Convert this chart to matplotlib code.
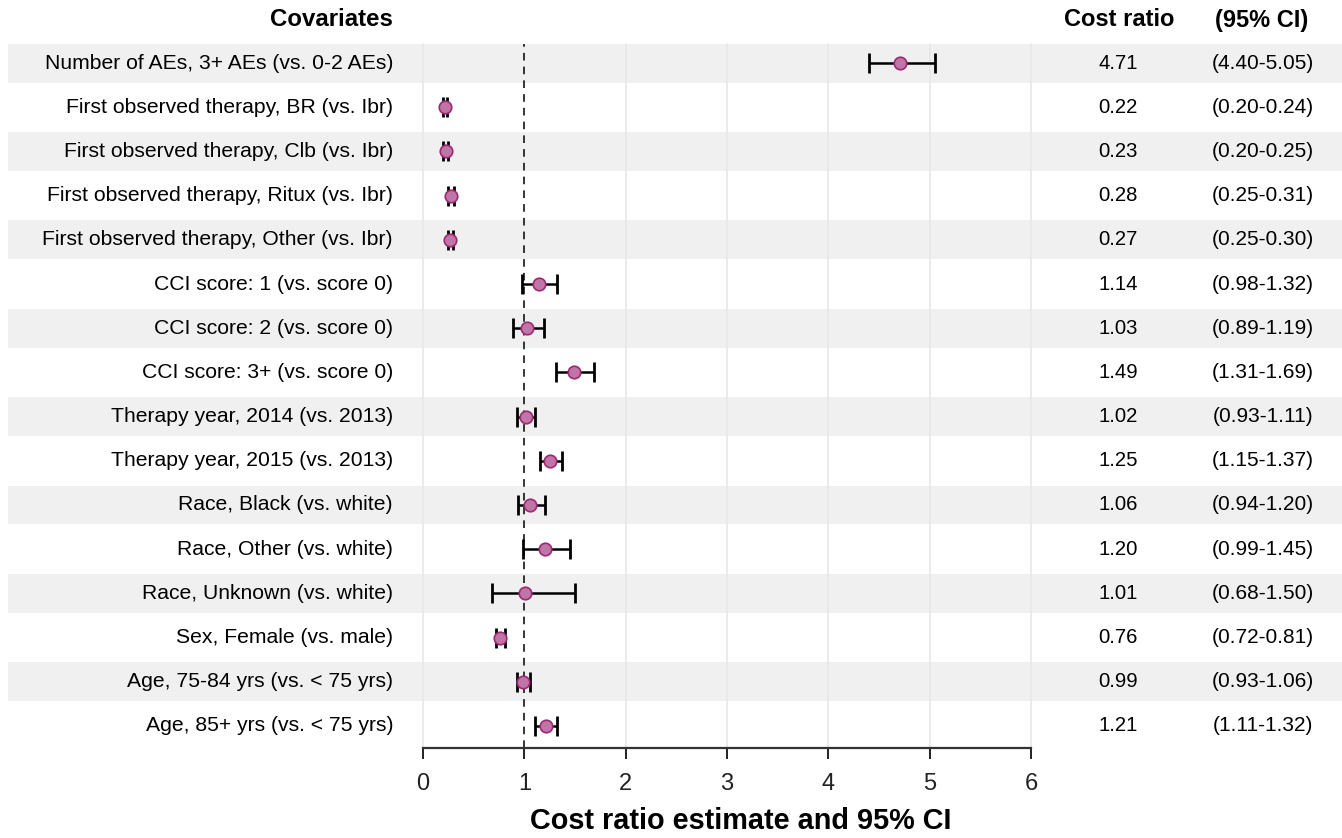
import matplotlib
matplotlib.use("Agg")
import matplotlib.pyplot as plt
import matplotlib.transforms as mtransforms

plt.rcParams['font.family'] = ['Liberation Sans', 'DejaVu Sans']

# --- data ---
labels = [
    "Number of AEs, 3+ AEs (vs. 0-2 AEs)",
    "First observed therapy, BR (vs. Ibr)",
    "First observed therapy, Clb (vs. Ibr)",
    "First observed therapy, Ritux (vs. Ibr)",
    "First observed therapy, Other (vs. Ibr)",
    "CCI score: 1 (vs. score 0)",
    "CCI score: 2 (vs. score 0)",
    "CCI score: 3+ (vs. score 0)",
    "Therapy year, 2014 (vs. 2013)",
    "Therapy year, 2015 (vs. 2013)",
    "Race, Black (vs. white)",
    "Race, Other (vs. white)",
    "Race, Unknown (vs. white)",
    "Sex, Female (vs. male)",
    "Age, 75-84 yrs (vs. < 75 yrs)",
    "Age, 85+ yrs (vs. < 75 yrs)",
]
est = [4.71, 0.22, 0.23, 0.28, 0.27, 1.14, 1.03, 1.49, 1.02, 1.25, 1.06, 1.20, 1.01, 0.76, 0.99, 1.21]
lo = [4.40, 0.20, 0.20, 0.25, 0.25, 0.98, 0.89, 1.31, 0.93, 1.15, 0.94, 0.99, 0.68, 0.72, 0.93, 1.11]
hi = [5.05, 0.24, 0.25, 0.31, 0.30, 1.32, 1.19, 1.69, 1.11, 1.37, 1.20, 1.45, 1.50, 0.81, 1.06, 1.32]
xticks = [0, 1, 2, 3, 4, 5, 6]

W, H = 1342, 838
fig = plt.figure(figsize=(W / 100, H / 100), dpi=100)

# plot area: x=0 at 423px, x=6 at 1031px; rows between 41px and 748px
left, right, top, bottom = 423, 1031, 41, 748
ax = fig.add_axes([left / W, 1 - bottom / H, (right - left) / W, (bottom - top) / H])
n = len(labels)
ys = [n - 1 - i for i in range(n)]
ax.set_xlim(0, 6)
ax.set_ylim(-0.5, n - 0.5)

# row shading across whole figure
bt = mtransforms.blended_transform_factory(fig.transFigure, ax.transData)
band = 0.88
for i, y in enumerate(ys):
    if i % 2 == 0:
        r = plt.Rectangle((8 / W, y - band / 2), 1 - 8 / W, band, transform=bt,
                          facecolor="#f0f0f0", edgecolor="none", zorder=0, clip_on=False)
        fig.add_artist(r)

ax.patch.set_alpha(0)
for xv in xticks:
    if xv != 1:
        ax.plot([xv, xv], [-0.5, n - 1 + band / 2], color="#e6e6e6", lw=1.1, zorder=1,
                clip_on=False)
ax.plot([1, 1], [-0.5, n - 1 + band / 2], color="black", lw=1.1, ls=(0, (5, 4)), zorder=2,
        clip_on=False)

xerr = [[e - l for e, l in zip(est, lo)], [h - e for e, h in zip(est, hi)]]
ax.errorbar(est, ys, xerr=xerr, fmt="none", ecolor="black", elinewidth=1.8,
            capsize=7, capthick=2, zorder=3)
ax.plot(est, ys, "o", ms=9, mfc="#c074a8", mec="#9b2a70", mew=1.2, zorder=4, ls="none")

for s in ["top", "right", "left"]:
    ax.spines[s].set_visible(False)
ax.spines["bottom"].set_linewidth(1.6)
ax.spines["bottom"].set_color("#333333")
ax.set_yticks([])
ax.set_xticks(xticks)
ax.set_xticklabels([str(t) for t in xticks], fontsize=17)
ax.tick_params(axis="x", length=8, width=1.4, pad=10, colors="#222222")

fig.text(741 / W, 1 - 821 / H, "Cost ratio estimate and 95% CI", ha="center", va="center",
         fontsize=20.8, fontweight="bold")

# labels and right columns
for i, y in enumerate(ys):
    ax.text(393 / W, y, labels[i], transform=bt, ha="right", va="center", fontsize=15.2)
    ax.text(1118 / W, y, f"{est[i]:.2f}", transform=bt, ha="center", va="center", fontsize=14.6)
    ax.text(1263 / W, y, f"({lo[i]:.2f}-{hi[i]:.2f})", transform=bt, ha="center", va="center",
            fontsize=15)

fig.text(393 / W, 1 - 20 / H, "Covariates", ha="right", va="center", fontsize=17.3, fontweight="bold")
fig.text(1119 / W, 1 - 20 / H, "Cost ratio", ha="center", va="center", fontsize=17, fontweight="bold")
fig.text(1262 / W, 1 - 20 / H, "(95% CI)", ha="center", va="center", fontsize=17, fontweight="bold")

fig.savefig("out.png", dpi=100)
